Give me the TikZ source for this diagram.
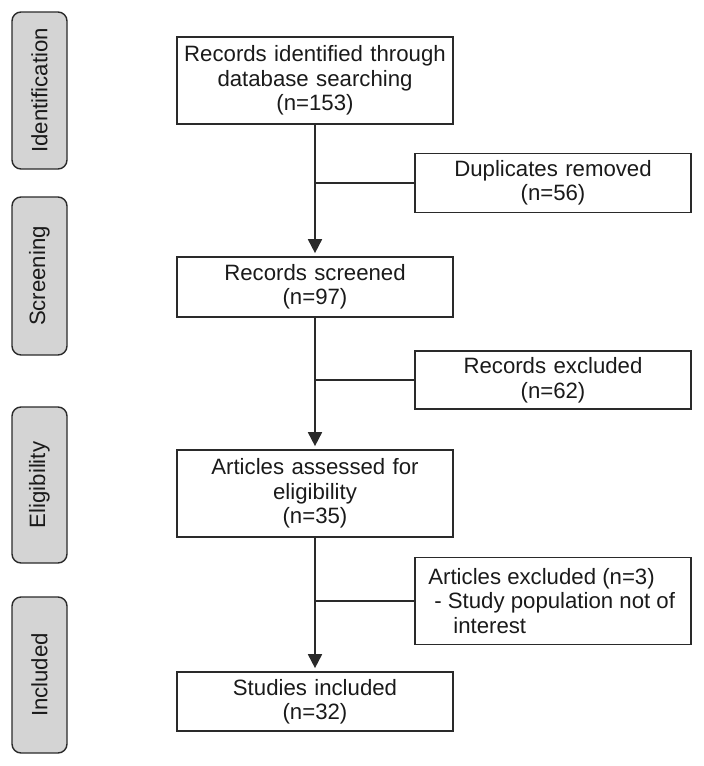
\documentclass[tikz,border=0pt]{standalone}
\usepackage{fontspec}
\setmainfont{Liberation Sans}
\usetikzlibrary{arrows.meta}
\definecolor{linec}{HTML}{2A2A2A}
\definecolor{textc}{HTML}{1A1A1A}
\definecolor{phasefill}{HTML}{D4D4D4}
\begin{document}
\begin{tikzpicture}[x=1pt,y=-1pt,
  font=\fontsize{22.2}{24.5}\selectfont,
  every node/.style={text=textc},
  mainbox/.style={draw=linec, line width=1.7pt, minimum width=276pt, align=center, inner sep=0pt, text width=270pt},
  emptybox/.style={draw=linec, line width=1.7pt, minimum width=276pt, inner sep=0pt},
  sidetext/.style={align=left, inner sep=0pt, anchor=west},
  phasebox/.style={draw=linec, fill=phasefill, line width=1.4pt, rounded corners=9pt, minimum height=55pt, inner sep=0pt, rotate=90},
  link/.style={draw=linec, line width=1.8pt},
  arr/.style={link, -{Triangle[length=14pt,width=14pt]}, shorten >=3pt}]
\useasboundingbox (0,0) rectangle (704,766);

% phase boxes
\node[phasebox, minimum width=157pt] (p1) at (39.5,90.5) {Identification};
\node[phasebox, minimum width=158pt] (p2) at (39.5,276) {Screening};
\node[phasebox, minimum width=156pt] (p3) at (39.5,485) {Eligibility};
\node[phasebox, minimum width=156pt] (p4) at (39.5,675) {Included};

% main boxes
\node[mainbox, minimum height=87pt] (b1) at (315,80.5) {Records identified through\\database searching\\(n=153)};
\node[mainbox, minimum height=60pt] (b2) at (315,287) {Records screened\\(n=97)};
\node[mainbox, minimum height=87pt] (b3) at (315,493.5) {Articles assessed for\\eligibility\\(n=35)};
\node[mainbox, minimum height=59pt] (b4) at (315,701.5) {Studies included\\(n=32)};

% side boxes
\node[mainbox, minimum height=59pt] (s1) at (553,183) {Duplicates removed\\(n=56)};
\node[mainbox, minimum height=58pt] (s2) at (553,380) {Records excluded\\(n=62)};
\node[emptybox, minimum height=87pt] (s3) at (553,601) {};
\node[sidetext] (s3t) at ([xshift=14pt]s3.west) {Articles excluded (n=3)\\\hspace*{6pt}- Study population not of\\\hspace*{25pt}interest};

% connectors
\draw[arr] (b1.south) -- (b2.north);
\draw[arr] (b2.south) -- (b3.north);
\draw[arr] (b3.south) -- (b4.north);
\draw[link] (s1.west) -- (s1.west -| b1.south);
\draw[link] (s2.west) -- (s2.west -| b2.south);
\draw[link] (s3.west) -- (s3.west -| b3.south);
\end{tikzpicture}
\end{document}
